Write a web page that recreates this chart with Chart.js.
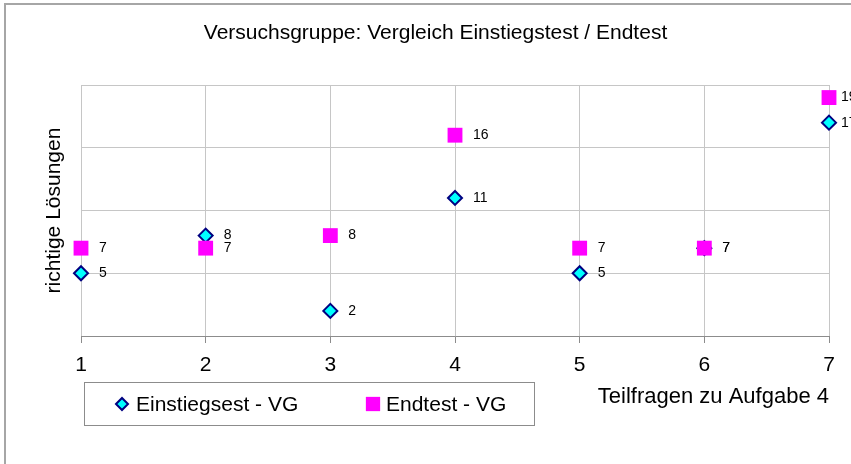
<!DOCTYPE html>
<html>
<head>
<meta charset="utf-8">
<script src="https://cdn.jsdelivr.net/npm/chart.js@4.4.1/dist/chart.umd.min.js"></script>
<style>
	html, body { margin: 0; padding: 0; background: #fff; }
	#wrap { width: 851px; height: 464px; position: relative; }
</style>
</head>
<body>
<div id="wrap"><canvas id="myChart" width="851" height="464"></canvas></div>
<script>
const FONT = "'Liberation Sans', Arial, sans-serif"

// data
const teilfragen = [1, 2, 3, 4, 5, 6, 7]
const einstiegVG = [5, 8, 2, 11, 5, 7, 17]
const endtestVG = [7, 7, 8, 16, 7, 7, 19]
const seriesNames = ['Einstiegsest - VG', 'Endtest - VG']

const toPoints = (vals) => teilfragen.map((x, i) => ({ x: x, y: vals[i] }))

// outer frame of the sheet chart
const framePlugin = {
	id: 'frame',
	beforeDraw(chart) {
		const ctx = chart.ctx
		ctx.save()
		ctx.fillStyle = '#fff'
		ctx.fillRect(0, 0, chart.width, chart.height)
		ctx.strokeStyle = '#a6a6a6'
		ctx.lineWidth = 2
		ctx.strokeRect(5, 4, chart.width + 20, chart.height + 20)
		ctx.restore()
	},
}

// value labels right of each marker
const valueLabels = {
	id: 'valueLabels',
	afterDatasetsDraw(chart) {
		const ctx = chart.ctx
		ctx.save()
		ctx.font = '14px ' + FONT
		ctx.fillStyle = '#000'
		ctx.textAlign = 'left'
		ctx.textBaseline = 'middle'
		chart.data.datasets.forEach((ds, di) => {
			chart.getDatasetMeta(di).data.forEach((pt, i) => {
				// labels near the right edge sit closer to the marker
				const off = Math.min(18, chart.width - 10 - pt.x)
				ctx.fillText(String(ds.data[i].y), pt.x + off, pt.y)
			})
		})
		ctx.restore()
	},
}

// boxed legend like the original
const boxLegend = {
	id: 'boxLegend',
	afterDraw(chart) {
		const ctx = chart.ctx
		const ds = chart.data.datasets
		ctx.save()
		ctx.strokeStyle = '#8c8c8c'
		ctx.lineWidth = 1
		ctx.strokeRect(84.5, 382.5, 450, 43)
		const items = [
			{ mx: 122, tx: 136 },
			{ mx: 373, tx: 386 },
		]
		ctx.font = '21px ' + FONT
		ctx.textBaseline = 'middle'
		items.forEach((it, i) => {
			const d = ds[i]
			ctx.fillStyle = d.backgroundColor
			ctx.strokeStyle = d.borderColor
			ctx.lineWidth = d.borderWidth
			Chart.helpers.drawPoint(ctx, {
				pointStyle: d.pointStyle,
				radius: i === 0 ? 6 : 10,
				borderWidth: d.borderWidth,
			}, it.mx, 404)
			if (!d.borderWidth) {
				ctx.fill()
			}
			ctx.fillStyle = '#000'
			ctx.fillText(seriesNames[i], it.tx, 405)
		})
		ctx.restore()
	},
}

const config = {
	type: 'scatter',
	data: {
		datasets: [
			{
				label: seriesNames[0],
				data: toPoints(einstiegVG),
				pointStyle: 'rectRot',
				pointRadius: 7,
				pointHoverRadius: 7,
				backgroundColor: '#00ffff',
				borderColor: '#000080',
				borderWidth: 2,
				order: 2,
				clip: false,
			},
			{
				label: seriesNames[1],
				data: toPoints(endtestVG),
				pointStyle: 'rect',
				pointRadius: 10.5,
				pointHoverRadius: 10.5,
				backgroundColor: '#ff00ff',
				borderColor: '#ff00ff',
				borderWidth: 0,
				order: 1,
				clip: false,
			},
		],
	},
	options: {
		responsive: false,
		animation: false,
		layout: {
			padding: { left: 42, top: 10, right: 22, bottom: 48 },
		},
		plugins: {
			legend: { display: false },
			tooltip: { enabled: false },
			title: {
				display: true,
				text: 'Versuchsgruppe: Vergleich Einstiegstest / Endtest',
				color: '#000',
				font: { family: FONT, size: 21, weight: 'normal' },
				padding: { top: 11, bottom: 38.8 },
			},
		},
		scales: {
			x: {
				type: 'linear',
				min: 1,
				max: 7,
				ticks: {
					stepSize: 1,
					color: '#000',
					font: { family: FONT, size: 21 },
					padding: 9.4,
				},
				grid: { color: '#c6c6c6', tickLength: 7, tickColor: '#8c8c8c' },
				border: { color: '#8c8c8c', width: 1 },
				title: {
					display: true,
					text: 'Teilfragen zu Aufgabe 4',
					align: 'end',
					color: '#000',
					font: { family: FONT, size: 22 },
					padding: { top: 0, bottom: 6 },
				},
				afterFit(s) {
					s.height = 80
				},
			},
			y: {
				min: 0,
				max: 20,
				ticks: { display: false, stepSize: 5 },
				grid: { color: '#c6c6c6', drawTicks: false },
				border: { display: false },
				title: {
					display: true,
					text: 'richtige Lösungen',
					color: '#000',
					font: { family: FONT, size: 21 },
					padding: { top: 0, bottom: 0 },
				},
				afterFit(s) {
					s.width = 39
				},
			},
		},
	},
	plugins: [framePlugin, valueLabels, boxLegend],
}

const myChart = new Chart(document.getElementById('myChart'), config)
</script>
</body>
</html>
